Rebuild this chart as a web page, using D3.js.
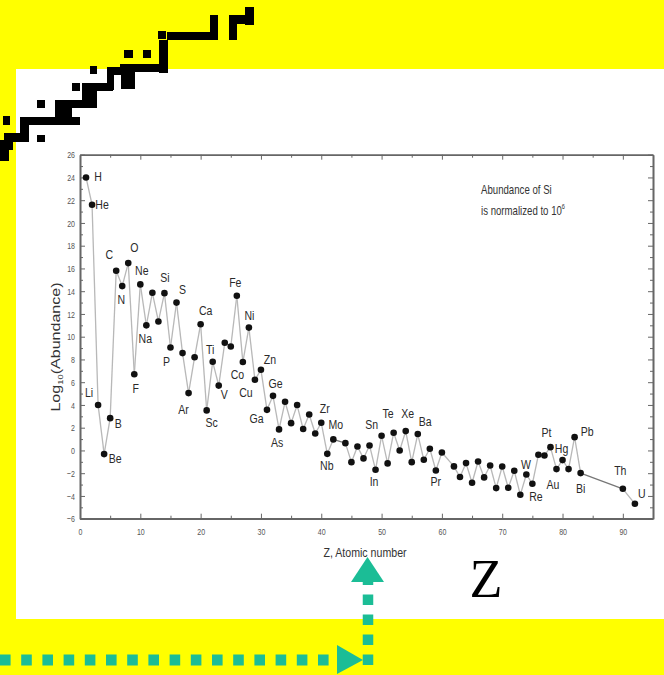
<!DOCTYPE html>
<html>
<head>
<meta charset="utf-8">
<script src="https://cdn.jsdelivr.net/npm/d3@7"></script>
<style>
  html, body { margin: 0; padding: 0; background: #ffff00; }
  svg { display: block; }
  text { font-family: "Liberation Sans", Arial, sans-serif; }
</style>
</head>
<body>
<svg id="chart" width="664" height="675"></svg>
<script>
// ---------------- DATA ----------------
const symbols = ["H","He","Li","Be","B","C","N","O","F","Ne","Na","Mg","Al","Si","P","S","Cl","Ar","K","Ca",
  "Sc","Ti","V","Cr","Mn","Fe","Co","Ni","Cu","Zn","Ga","Ge","As","Se","Br","Kr","Rb","Sr","Y","Zr",
  "Nb","Mo","Ru","Rh","Pd","Ag","Cd","In","Sn","Sb","Te","I","Xe","Cs","Ba","La","Ce","Pr","Nd","Sm",
  "Eu","Gd","Tb","Dy","Ho","Er","Tm","Yb","Lu","Hf","Ta","W","Re","Os","Ir","Pt","Au","Hg","Tl","Pb",
  "Bi","Th","U"];
const atomicNumbers = [1,2,3,4,5,6,7,8,9,10,11,12,13,14,15,16,17,18,19,20,
  21,22,23,24,25,26,27,28,29,30,31,32,33,34,35,36,37,38,39,40,
  41,42,44,45,46,47,48,49,50,51,52,53,54,55,56,57,58,59,60,62,
  63,64,65,66,67,68,69,70,71,72,73,74,75,76,77,78,79,80,81,82,
  83,90,92];
const logAbundance = [24.0,21.6,4.0,-0.32,2.84,15.8,14.45,16.47,6.7,14.6,11.0,13.86,11.34,13.83,9.05,13.0,8.56,5.04,8.2,11.1,
  3.52,7.8,5.7,9.47,9.14,13.6,7.77,10.8,6.21,7.09,3.57,4.8,1.85,4.28,2.4,3.99,1.88,3.16,1.49,2.43,
  -0.3,0.97,0.64,-1.03,0.35,-0.7,0.44,-1.7,1.29,-1.14,1.55,0.0,1.7,-1.03,1.44,-0.82,0.15,-1.76,-0.18,-1.4,
  -2.34,-1.11,-2.84,-0.97,-2.37,-1.32,-3.31,-1.41,-3.28,-1.79,-3.9,-2.11,-2.93,-0.38,-0.44,0.29,-1.64,-0.85,-1.64,1.17,
  -1.99,-3.37,-4.69];
const labelledElements = ["H","He","Li","Be","B","C","N","O","F","Ne","Na","Si","P","S","Ar","Ca","Sc","Ti","V",
  "Fe","Co","Ni","Cu","Zn","Ga","Ge","As","Zr","Nb","Mo","Sn","In","Te","Xe","Ba","Pr","W","Re","Pt","Au","Hg",
  "Pb","Bi","Th","U"];
const xTicks = [0,10,20,30,40,50,60,70,80,90];
const yTicks = [-6,-4,-2,0,2,4,6,8,10,12,14,16,18,20,22,24,26];

// ---------------- LAYOUT / STYLE ----------------
const labelOffsets = { // px offsets of label centre from its point
  H:[12,-1], He:[10,0], Li:[-9,-12.5], Be:[11,4], B:[8,5.5], C:[-7,-16.5], N:[-1,13.5], O:[6,-15.5],
  F:[1.5,14.5], Ne:[1.5,-14], Na:[-1,13.5], Si:[0.5,-16], P:[-4,14.5], S:[6,-13.5], Ar:[-5,16],
  Ca:[5,-13.5], Sc:[5,12], Ti:[-2.5,-12], V:[5.5,8.5], Fe:[-1.5,-13.5], Co:[-5.5,12.5], Ni:[0.5,-12.5],
  Cu:[-9,12.5], Zn:[9,-10], Ga:[-10.5,9], Ge:[2.5,-12.5], As:[-2,13.5], Zr:[3.5,-14], Nb:[-0.5,11.5],
  Mo:[2.5,-14.5], Sn:[-10,-11.5], In:[-1.5,11.5], Te:[-5.5,-19], Xe:[2,-18], Ba:[7.5,-13], Pr:[0,11.5],
  W:[-0.5,-10], Re:[3.5,12.5], Pt:[-4,-15], Au:[-3.5,15.5], Hg:[-1,-11.5], Pb:[12.5,-5.5], Bi:[0,15],
  Th:[-2.5,-18.5], U:[7,-10.5]
};
const staircase = [ // decorative pixel blocks [x,y,w,h]
  [245,7,9,18],[229,15,25,9],[229,15,8,25],[210,15,8,25],[167,32,51,8],[158,31,8,8],
  [159,40,9,33],[120,64,48,8],[143,50,8,8],[124,50,9,8],[127,64,8,25],
  [107,67,21,8],[107,67,7,23],[121,67,7,22],[90,66,7,8],
  [89,83,24,8],[72,83,8,8],[82,83,15,24],
  [55,100,42,8],[55,100,17,25],[37,100,8,8],[72,117,8,8],
  [20,117,43,8],[20,117,9,25],[3,116,7,9],[37,135,8,7],
  [4,133,21,9],[4,133,9,17],[0,140,13,10],[0,150,9,11]
];

const svg = d3.select("#chart");

// background panel
svg.append("rect").attr("x",0).attr("y",0).attr("width",664).attr("height",675).attr("fill","#ffff00");
svg.append("rect").attr("x",16).attr("y",69).attr("width",648).attr("height",550).attr("fill","#ffffff");

// staircase decoration
svg.append("g").selectAll("rect").data(staircase).join("rect")
  .attr("x",d=>d[0]).attr("y",d=>d[1]).attr("width",d=>d[2]).attr("height",d=>d[3]).attr("fill","#000");

// scales
const x = d3.scaleLinear().domain([0,95]).range([80,653]);
const y = d3.scaleLinear().domain([-6,26]).range([518.7,154.7]);

const axisColor = "#666";
const SX = 0.78; // horizontal condensation of the (vertically stretched) original text
function styleAxis(g){
  g.select(".domain").attr("stroke",axisColor).attr("stroke-width",1.6);
  g.selectAll(".tick line").attr("stroke",axisColor).attr("stroke-width",1);
  g.selectAll(".tick text").attr("fill","#555").style("font-size","9px")
    .attr("font-family","'Liberation Sans', Arial, sans-serif");
}
function condenseTickText(g, anchorX){
  g.selectAll(".tick text").each(function(){
    const t = d3.select(this);
    const tx = +t.attr("x") || 0, ty = +t.attr("y") || 0;
    t.attr("transform",`translate(${tx},${ty}) scale(${SX},1.1) translate(${-tx},${-ty})`);
  });
}
const gx = svg.append("g").attr("transform",`translate(0,${y(-6)})`);
gx.call(d3.axisBottom(x).tickValues(xTicks).tickSizeInner(-5).tickSizeOuter(0).tickPadding(9).tickFormat(d3.format("d")))
  .call(styleAxis).call(condenseTickText);
gx.call(g=>g.select(".domain").attr("d",`M${x(0)},0H${x(95)}`));
svg.append("g").attr("transform",`translate(0,${y(-6)})`)
  .call(d3.axisBottom(x).tickValues(d3.range(5,95,10)).tickSizeInner(-3).tickSizeOuter(0).tickFormat(""))
  .call(styleAxis);
svg.append("g").attr("transform",`translate(0,${y(26)})`)
  .call(d3.axisTop(x).tickValues(xTicks).tickSizeInner(-5).tickSizeOuter(0).tickFormat("")).call(styleAxis);
svg.append("g").attr("transform",`translate(0,${y(26)})`)
  .call(d3.axisTop(x).tickValues(d3.range(5,95,10)).tickSizeInner(-3).tickSizeOuter(0).tickFormat("")).call(styleAxis);

svg.append("g").attr("transform",`translate(${x(0)},0)`)
  .call(d3.axisLeft(y).tickValues(yTicks).tickSizeInner(-5).tickSizeOuter(0).tickPadding(5).tickFormat(d3.format("d")))
  .call(styleAxis).call(condenseTickText);
svg.append("g").attr("transform",`translate(${x(0)},0)`)
  .call(d3.axisLeft(y).tickValues(d3.range(-5,26,2)).tickSizeInner(-3).tickSizeOuter(0).tickFormat("")).call(styleAxis);
svg.append("g").attr("transform",`translate(${x(95)},0)`)
  .call(d3.axisRight(y).tickValues(yTicks).tickSizeInner(-5).tickSizeOuter(0).tickFormat("")).call(styleAxis);
svg.append("g").attr("transform",`translate(${x(95)},0)`)
  .call(d3.axisRight(y).tickValues(d3.range(-5,26,2)).tickSizeInner(-3).tickSizeOuter(0).tickFormat("")).call(styleAxis);

// data
const data = symbols.map((s,i)=>({s, z:atomicNumbers[i], v:logAbundance[i]}));
const segs = d3.pairs(data);
svg.append("g").selectAll("line").data(segs).join("line")
  .attr("x1",d=>x(d[0].z)).attr("y1",d=>y(d[0].v))
  .attr("x2",d=>x(d[1].z)).attr("y2",d=>y(d[1].v))
  .attr("stroke",d=> (d[1].z - d[0].z > 2) || (d[0].s==="Mo") ? "#777" : "#b8b8b8")
  .attr("stroke-width",1.3);

svg.append("g").selectAll("circle").data(data).join("circle")
  .attr("cx",d=>x(d.z)).attr("cy",d=>y(d.v)).attr("r",3.3).attr("fill","#111");

// element labels
svg.append("g").selectAll("text").data(data.filter(d=>labelledElements.includes(d.s))).join("text")
  .attr("transform",d=>`translate(${x(d.z)+labelOffsets[d.s][0]},${y(d.v)+labelOffsets[d.s][1]}) scale(${SX},1)`)
  .attr("text-anchor","middle").attr("dominant-baseline","central")
  .style("font-size","13.5px").attr("fill","#2a2a2a")
  .text(d=>d.s);

// annotation
const ann = svg.append("text").attr("transform",`translate(481,194) scale(${SX*1.03},1)`)
  .style("font-size","12px").attr("fill","#333");
ann.append("tspan").text("Abundance of Si");
const ann2 = svg.append("text").attr("transform",`translate(481,215) scale(${SX*1.03},1)`)
  .style("font-size","12px").attr("fill","#333");
ann2.append("tspan").text("is normalized to 10");
ann2.append("tspan").attr("dy",-6).style("font-size","7px").text("6");

// axis titles
svg.append("text").attr("transform",`translate(365,557) scale(0.85,1)`)
  .attr("text-anchor","middle").style("font-size","12.5px").attr("fill","#333")
  .text("Z, Atomic number");
const yl = svg.append("text")
  .attr("transform","translate(60,347) rotate(-90) scale(1.34,1)")
  .attr("text-anchor","middle").style("font-size","12px").attr("fill","#333");
yl.append("tspan").text("Log");
yl.append("tspan").attr("dy",3).style("font-size","7px").text("10");
yl.append("tspan").attr("dy",-3).text("(Abundance)");

// big Z
svg.append("text").attr("x",486).attr("y",597).attr("text-anchor","middle")
  .style("font-family","'Liberation Serif', 'Times New Roman', serif").style("font-size","54px")
  .attr("fill","#000").text("Z");

// teal arrows
const teal = "#1bbd96";
svg.append("line").attr("x1",0).attr("y1",660).attr("x2",340).attr("y2",660)
  .attr("stroke",teal).attr("stroke-width",11).attr("stroke-dasharray","10.6,10.6");
svg.append("polygon").attr("points","337,645 363,660 337,674").attr("fill",teal);
svg.append("line").attr("x1",368).attr("y1",665).attr("x2",368).attr("y2",581)
  .attr("stroke",teal).attr("stroke-width",10.5).attr("stroke-dasharray","10.5,9.5");
svg.append("polygon").attr("points","351,582 367.5,557 384,582").attr("fill",teal);
</script>
</body>
</html>
